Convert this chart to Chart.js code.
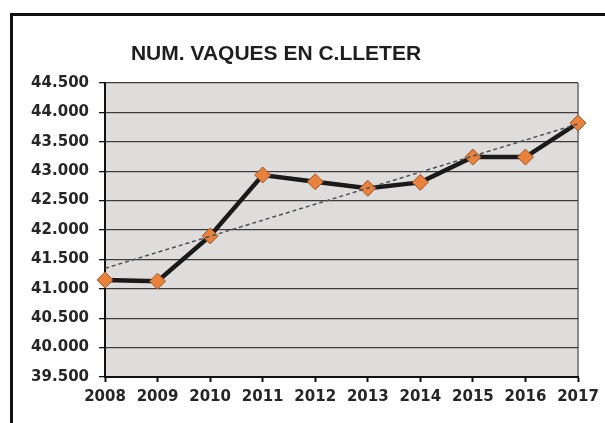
<!DOCTYPE html>
<html>
<head>
<meta charset="utf-8">
<script src="https://cdn.jsdelivr.net/npm/chart.js@4/dist/chart.umd.min.js"></script>
<style>
  html, body { margin: 0; padding: 0; background: #fff; overflow: hidden; }
  #wrap { position: relative; width: 605px; height: 423px; }
  #frame { position: absolute; left: 10px; top: 13px; width: 700px; height: 500px; border: 3px solid #111; box-sizing: border-box; }
  #vaques { position: absolute; left: 0; top: 0; }
</style>
</head>
<body>
<div id="wrap">
  <div id="frame"></div>
  <canvas id="vaques" width="605" height="423"></canvas>
</div>
<script>
const titleText = 'NUM. VAQUES EN C.LLETER';
const years = ['2008', '2009', '2010', '2011', '2012', '2013', '2014', '2015', '2016', '2017'];
const vaques = [41150, 41130, 41900, 42935, 42820, 42710, 42810, 43240, 43240, 43820];
const yMin = 39500;
const yMax = 44500;
const yStep = 500;

// linear trendline (least squares), like the spreadsheet did
function trend(vals) {
  const n = vals.length;
  const mx = (n - 1) / 2;
  const my = vals.reduce((a, b) => a + b, 0) / n;
  let sxy = 0, sxx = 0;
  vals.forEach((v, i) => { sxy += (i - mx) * (v - my); sxx += (i - mx) * (i - mx); });
  const k = sxy / sxx;
  return vals.map((v, i) => my + k * (i - mx));
}

const plotBg = {
  id: 'plotBg',
  beforeDraw(chart) {
    const { ctx, chartArea: a } = chart;
    ctx.save();
    ctx.fillStyle = '#dfdcdc';
    ctx.fillRect(a.left, a.top, a.right - a.left, a.bottom - a.top);
    ctx.strokeStyle = '#8a8a8a';
    ctx.lineWidth = 2;
    ctx.beginPath();
    ctx.moveTo(a.right, a.top);
    ctx.lineTo(a.right, a.bottom);
    ctx.stroke();
    ctx.restore();
  },
  afterDraw(chart) {
    const ctx = chart.ctx;
    ctx.save();
    ctx.fillStyle = '#1e1e1e';
    ctx.font = 'bold 21px "Liberation Sans", Arial, sans-serif';
    ctx.textAlign = 'center';
    ctx.textBaseline = 'middle';
    ctx.fillText(titleText, 276, 54);
    ctx.restore();
  }
};

const tickFont = { family: '"DejaVu Sans", sans-serif', size: 15, weight: 'bold' };

new Chart(document.getElementById('vaques').getContext('2d'), {
  type: 'line',
  data: {
    labels: years,
    datasets: [
      {
        label: 'Tendència',
        data: trend(vaques),
        borderColor: '#4d5058',
        borderWidth: 1.5,
        borderDash: [4, 3],
        pointRadius: 0,
        fill: false,
        order: 0
      },
      {
        label: 'Vaques',
        data: vaques,
        borderColor: '#1a1a1a',
        borderWidth: 4.5,
        pointStyle: 'rectRot',
        pointRadius: 8,
        pointBackgroundColor: '#e8813c',
        pointBorderColor: '#9c5a2c',
        pointBorderWidth: 1,
        tension: 0,
        fill: false,
        order: 1
      }
    ]
  },
  options: {
    responsive: false,
    animation: false,
    layout: { padding: { left: 0, top: 83, right: 27, bottom: 0 } },
    scales: {
      x: {
        offset: false,
        grid: { drawOnChartArea: false, drawTicks: true, tickLength: 5, tickColor: '#111', tickWidth: 2 },
        border: { color: '#111', width: 2 },
        ticks: { font: tickFont, color: '#262626', padding: 6, maxRotation: 0, autoSkip: false },
        afterFit(scale) { scale.height = 46; }
      },
      y: {
        min: yMin,
        max: yMax,
        grid: { color: '#3c3c3c', lineWidth: 1.3, tickLength: 6, tickColor: '#111' },
        border: { color: '#111', width: 2 },
        ticks: {
          stepSize: yStep,
          font: tickFont,
          color: '#262626',
          padding: 10,
          callback: v => v.toLocaleString('de-DE')
        },
        afterFit(scale) { scale.width = 105; }
      }
    },
    plugins: {
      legend: { display: false },
      tooltip: { enabled: false }
    }
  },
  plugins: [plotBg]
});
</script>
</body>
</html>
